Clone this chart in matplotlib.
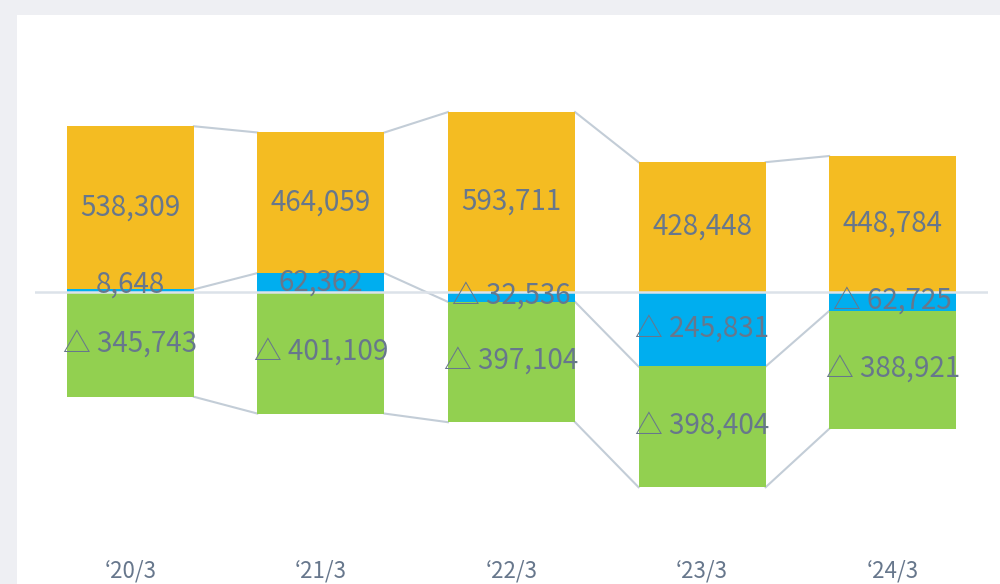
import numpy as np
import matplotlib.pyplot as plt
from matplotlib.patches import Rectangle

plt.rcParams['font.family'] = ['Noto Sans CJK JP', 'DejaVu Sans']

# data
periods = ['\u201820/3', '\u201821/3', '\u201822/3', '\u201823/3', '\u201824/3']
orange_vals = [538309, 464059, 593711, 428448, 448784]
blue_vals = [8648, 62362, -32536, -245831, -62725]
green_vals = [-345743, -401109, -397104, -398404, -388921]

ORANGE = '#F4BC22'
BLUE = '#00AEEF'
GREEN = '#92D050'
LINE = '#C3CDD7'
TEXT = '#67778C'

fig = plt.figure(figsize=(10, 5.84), dpi=100, facecolor='#EEEFF3')
# white panel
fig.patches.append(Rectangle((17 / 1000, 0), 1, 1 - 15 / 584, transform=fig.transFigure,
                             facecolor='white', edgecolor='none', zorder=-5))

ax = fig.add_axes([35 / 1000, 43 / 584, 953 / 1000, 497 / 584])
ax.set_facecolor('none')

x = np.arange(len(periods))
w = 0.667
orange = np.array(orange_vals)
blue = np.array(blue_vals)
green = np.array(green_vals)

blue_pos = np.clip(blue, 0, None)
blue_neg = np.clip(blue, None, 0)

ax.bar(x, blue, w, color=BLUE, zorder=2)
ax.bar(x, orange, w, bottom=blue_pos, color=ORANGE, zorder=2)
ax.bar(x, green, w, bottom=blue_neg, color=GREEN, zorder=2)

# connectors
tops = orange + blue_pos
bottoms = green + blue_neg
for i in range(len(x) - 1):
    for s in (tops, blue, bottoms):
        ax.plot([x[i] + w / 2, x[i + 1] - w / 2], [s[i], s[i + 1]],
                color=LINE, lw=1.5, zorder=1)

ax.axhline(0, color='#DCE2E9', lw=1.8, zorder=3)


def fmt(v):
    return ('\u25b3 ' if v < 0 else '') + f'{abs(v):,}'


for i in range(len(x)):
    ax.text(x[i], blue_pos[i] + orange[i] / 2, fmt(orange[i]), ha='center', va='center',
            fontsize=20, color=TEXT, zorder=4)
    by = blue[i] / 2
    if abs(blue[i]) < 30000:
        by = 26000
    ax.text(x[i], by, fmt(blue[i]), ha='center', va='center',
            fontsize=20, color=TEXT, zorder=4)
    ax.text(x[i], blue_neg[i] + green[i] / 2, fmt(green[i]), ha='center', va='center',
            fontsize=20, color=TEXT, zorder=4)

ax.set_xlim(-0.5, 4.5)
ax.set_ylim(-821700, 818400)
ax.set_xticks(x)
ax.set_xticklabels(periods, fontsize=16, color=TEXT)
ax.tick_params(axis='x', length=0, pad=13)
ax.set_yticks([])
for sp in ax.spines.values():
    sp.set_visible(False)

fig.savefig('out.png', dpi=100, facecolor=fig.get_facecolor())
